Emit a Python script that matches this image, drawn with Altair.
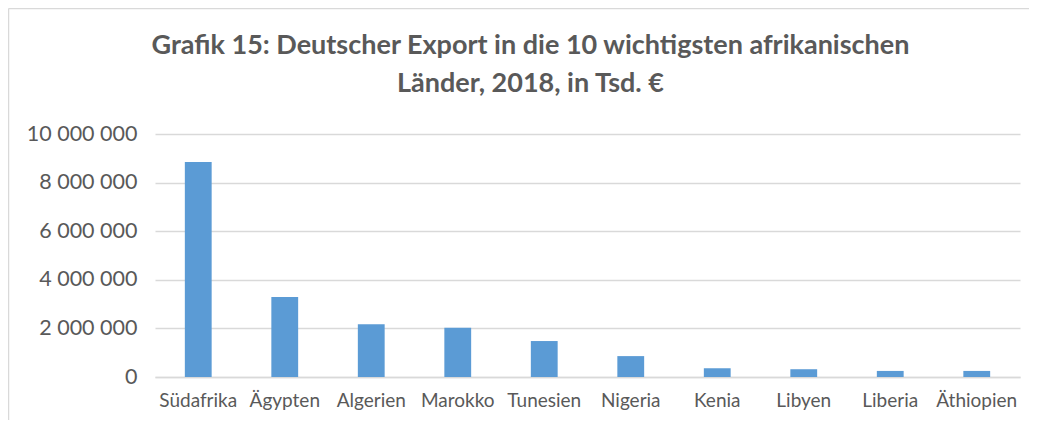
import altair as alt
import pandas as pd

countries = ["Südafrika", "Ägypten", "Algerien", "Marokko", "Tunesien",
             "Nigeria", "Kenia", "Libyen", "Liberia", "Äthiopien"]
exports = [8850000, 3290000, 2170000, 2030000, 1480000,
           860000, 360000, 320000, 250000, 250000]
y_ticks = [0, 2000000, 4000000, 6000000, 8000000, 10000000]
title_lines = ["Grafik 15: Deutscher Export in die 10 wichtigsten afrikanischen",
               "Länder, 2018, in Tsd. €"]

df = pd.DataFrame({"Land": countries, "Export": exports})

FONT = "Lato"
TEXT = "#595959"
GRID = "#D9D9D9"

bars = alt.Chart(df).mark_bar(color="#5B9BD5").encode(
    x=alt.X("Land:N", sort=countries, title=None,
            scale=alt.Scale(paddingInner=0.69, paddingOuter=0.345),
            axis=alt.Axis(labelAngle=0, labelFont=FONT, labelFontSize=19,
                          labelColor=TEXT, ticks=False, labelPadding=14,
                          domain=True, domainColor=GRID, domainWidth=1.3,
                          grid=False)),
    y=alt.Y("Export:Q", title=None,
            scale=alt.Scale(domain=[0, 10000000]),
            axis=alt.Axis(values=y_ticks, labelFont=FONT, labelFontSize=21.5,
                          labelColor=TEXT, ticks=False, labelPadding=18,
                          domain=False, gridColor=GRID, gridWidth=1.3,
                          labelExpr="replace(replace(format(datum.value, ','), ',', ' '), ',', ' ')")),
)

frame = pd.DataFrame({"k": [0]})
left_border = alt.Chart(frame).mark_rule(color=GRID, strokeWidth=1.5).encode(
    x=alt.value(-146.5), y=alt.value(-125.5), y2=alt.value(290))
top_border = alt.Chart(frame).mark_rule(color=GRID, strokeWidth=1.5).encode(
    x=alt.value(-146.5), x2=alt.value(880), y=alt.value(-125.5))

chart = alt.layer(bars, left_border, top_border).properties(
    width=865, height=243,
    autosize=alt.AutoSizeParams(type="none"),
    padding={"left": 147, "top": 126, "right": 9, "bottom": 43},
    title=alt.TitleParams(text=title_lines, font=FONT, fontSize=27,
                          fontWeight="bold", color=TEXT, anchor="middle",
                          frame="group", dx=-57, dy=90, lineHeight=38, offset=0),
).configure_view(stroke=None)

chart.save("out.html", embed_options={"renderer": "svg", "actions": False})
